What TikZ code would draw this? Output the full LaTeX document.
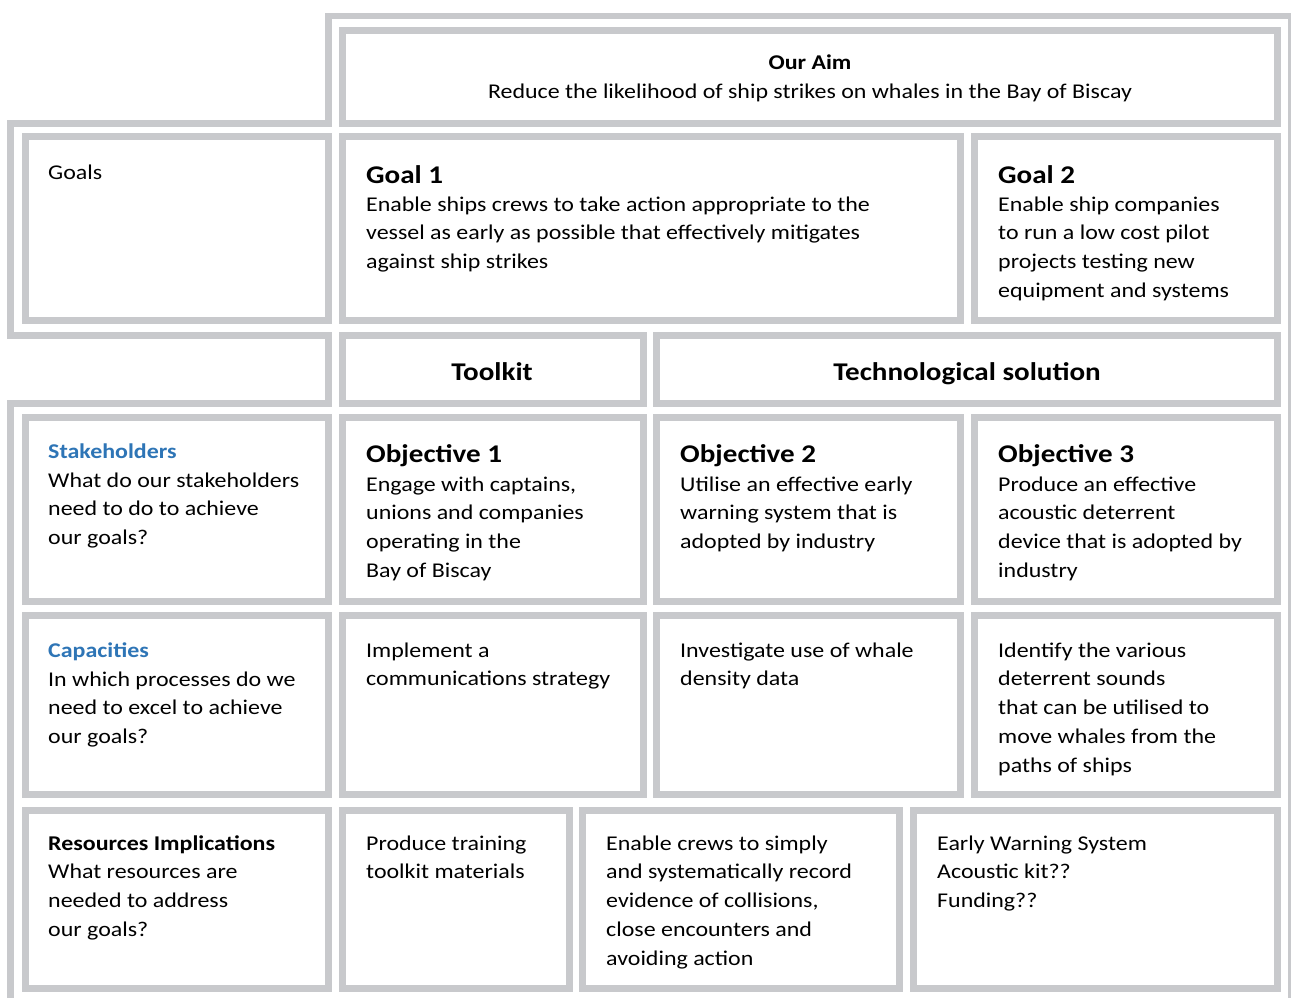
\documentclass[tikz,border=0pt]{standalone}
\usepackage{fontspec}
\setmainfont{Carlito}[FakeStretch=1.14]
\definecolor{framegray}{RGB}{200,201,204}
\definecolor{headblue}{RGB}{46,117,182}
\newcommand{\bodyfont}{\fontsize{21}{28.75}\selectfont}
\newcommand{\headfont}{\fontsize{25.5}{30}\selectfont\bfseries}
\newcommand{\lines}[1]{\begin{tabular}[t]{@{}l@{}}#1\end{tabular}}
\newcommand{\clines}[1]{\begin{tabular}[t]{@{}c@{}}#1\end{tabular}}
\tikzset{
  cellline/.style={draw=framegray, line width=7pt},
  frameline/.style={draw=framegray, line width=6.5pt, line join=miter},
  txt/.style={anchor=base west, inner sep=0pt, font=\bodyfont},
  ctxt/.style={anchor=base, inner sep=0pt, font=\bodyfont},
  head/.style={anchor=base west, inner sep=0pt, font=\headfont},
  chead/.style={anchor=base, inner sep=0pt, font=\headfont},
}
\begin{document}
\begin{tikzpicture}[x=1pt,y=-1pt]
\useasboundingbox (0,0) rectangle (1291,998);
\fill[white] (0,0) rectangle (1291,998);
% outer frame
\draw[frameline] (10.5,1005) -- (10.5,403.5) -- (328.3,403.5) -- (328.3,335.5) -- (10.5,335.5) -- (10.5,123.5) -- (328.3,123.5) -- (328.3,16) -- (1291.5,16) -- (1291.5,1005);
% cells
\draw[cellline] (342.5,30.5) rectangle (1277.5,123.5);
\draw[cellline] (25.5,136.5) rectangle (328.5,320.5);
\draw[cellline] (342.5,136.5) rectangle (960.5,320.5);
\draw[cellline] (974.5,136.5) rectangle (1277.5,320.5);
\draw[cellline] (342.5,335.5) rectangle (643.5,403.5);
\draw[cellline] (656.5,335.5) rectangle (1277.5,403.5);
\draw[cellline] (25.5,417.5) rectangle (328.5,601.5);
\draw[cellline] (342.5,417.5) rectangle (643.5,601.5);
\draw[cellline] (656.5,417.5) rectangle (960.5,601.5);
\draw[cellline] (974.5,417.5) rectangle (1277.5,601.5);
\draw[cellline] (25.5,615.5) rectangle (328.5,794.5);
\draw[cellline] (342.5,615.5) rectangle (643.5,794.5);
\draw[cellline] (656.5,615.5) rectangle (960.5,794.5);
\draw[cellline] (974.5,615.5) rectangle (1277.5,794.5);
\draw[cellline] (25.5,810.5) rectangle (328.5,988.5);
\draw[cellline] (342.5,810.5) rectangle (569.5,988.5);
\draw[cellline] (582.5,810.5) rectangle (899.5,988.5);
\draw[cellline] (913.5,810.5) rectangle (1277.5,988.5);
% texts
\node[ctxt] (aim) at (810,70) {\clines{\textbf{Our Aim}\\Reduce the likelihood of ship strikes on whales in the Bay of Biscay}};
\node[txt] (goals) at (48,179) {Goals};
\node[head] (g1h) at (366,183) {Goal 1};
\node[txt] (g1) at (366,211) {\lines{Enable ships crews to take action appropriate to the\\vessel as early as possible that effectively mitigates\\against ship strikes}};
\node[head] (g2h) at (998,183) {Goal 2};
\node[txt] (g2) at (998,211) {\lines{Enable ship companies\\to run a low cost pilot\\projects testing new\\equipment and systems}};
\node[chead] (tk) at (492,380) {Toolkit};
\node[chead] (ts) at (967,380) {Technological solution};
\node[txt] (sth) at (48,458) {\textcolor{headblue}{\textbf{Stakeholders}}};
\node[txt] (st) at (48,487) {\lines{What do our stakeholders\\need to do to achieve\\our goals?}};
\node[head] (o1h) at (366,462) {Objective 1};
\node[txt] (o1) at (366,491) {\lines{Engage with captains,\\unions and companies\\operating in the\\Bay of Biscay}};
\node[head] (o2h) at (680,462) {Objective 2};
\node[txt] (o2) at (680,491) {\lines{Utilise an effective early\\warning system that is\\adopted by industry}};
\node[head] (o3h) at (998,462) {Objective 3};
\node[txt] (o3) at (998,491) {\lines{Produce an effective\\acoustic deterrent\\device that is adopted by\\industry}};
\node[txt] (caph) at (48,657) {\textcolor{headblue}{\textbf{Capacities}}};
\node[txt] (cap) at (48,686) {\lines{In which processes do we\\need to excel to achieve\\our goals?}};
\node[txt] (impl) at (366,657) {\lines{Implement a\\communications strategy}};
\node[txt] (inv) at (680,657) {\lines{Investigate use of whale\\density data}};
\node[txt] (idn) at (998,657) {\lines{Identify the various\\deterrent sounds\\that can be utilised to\\move whales from the\\paths of ships}};
\node[txt] (res) at (48,850) {\lines{\textbf{Resources Implications}\\What resources are\\needed to address\\our goals?}};
\node[txt] (prod) at (366,850) {\lines{Produce training\\toolkit materials}};
\node[txt] (enab) at (606,850) {\lines{Enable crews to simply\\and systematically record\\evidence of collisions,\\close encounters and\\avoiding action}};
\node[txt] (early) at (937,850) {\lines{Early Warning System\\Acoustic kit??\\Funding??}};
\end{tikzpicture}
\end{document}
